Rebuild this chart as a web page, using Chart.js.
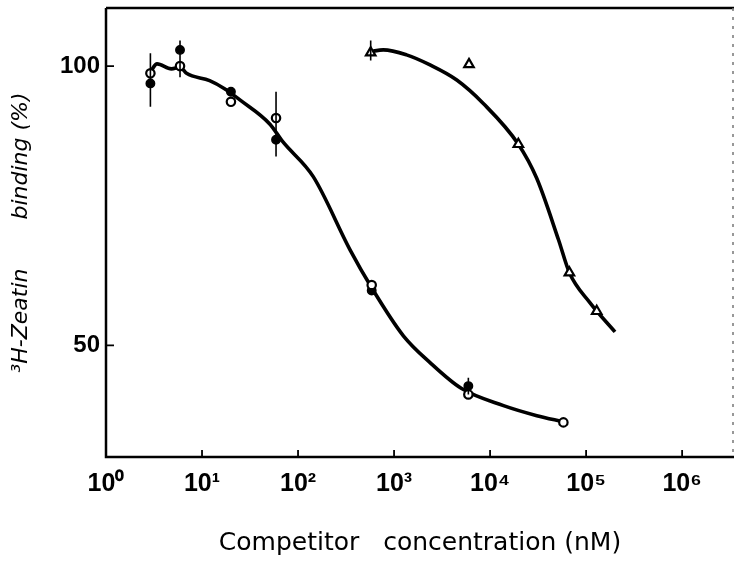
<!DOCTYPE html>
<html><head><meta charset="utf-8">
<script src="https://cdn.jsdelivr.net/npm/chart.js@4/dist/chart.umd.min.js"></script>
<style>html,body{margin:0;padding:0;background:#fff}canvas{display:block}</style>
</head><body>
<canvas id="c" width="735" height="561"></canvas>
<script>
// ---- data ----
const xTickValues = [1, 10, 100, 1000, 10000, 100000, 1000000];
const xTickLabels = ['10⁰', '10¹', '10²', '10³', '10⁴', '10⁵', '10⁶'];
const yTickValues = [50, 100];

const openConc = [2.9, 5.9, 20, 59, 585, 5940, 58000];
const openBinding = [98.7, 100.0, 93.6, 90.7, 60.8, 41.2, 36.2];

const filledConc = [2.9, 5.9, 20, 59, 585, 5940];
const filledBinding = [96.9, 102.9, 95.4, 86.8, 59.8, 42.7];

const triConc = [571, 6030, 19700, 67000, 129000];
const triBinding = [102.4, 100.3, 86.0, 63.0, 56.1];

const fit1Conc = [2.9, 3.4, 4.8, 5.9, 6.9, 12, 17, 25, 51, 69, 144, 348, 585, 1250, 2370, 5000, 13800, 30700, 58000];
const fit1Binding = [99.0, 100.4, 99.5, 99.8, 98.7, 97.4, 96.0, 93.9, 89.6, 86.5, 80.2, 67.1, 60.3, 51.7, 46.9, 42.3, 39.2, 37.4, 36.3];

const fit2Conc = [571, 773, 1350, 2370, 4500, 8500, 19700, 30600, 51600, 67000, 110000, 200000];
const fit2Binding = [102.6, 102.9, 102.0, 100.2, 97.5, 93.3, 86.0, 79.9, 68.9, 63.0, 57.6, 52.4];

const errConc = [2.9, 5.9, 59, 571, 5940];
const errLow = [92.7, 98.0, 83.8, 101.0, 41.2];
const errHigh = [102.3, 104.6, 95.4, 104.6, 44.2];

const xTitle = 'Competitor   concentration (nM)';
const yTitle = '³H-Zeatin       binding (%)';

// ---- helpers ----
const pts = (xs, ys) => xs.map((x, i) => ({x: x, y: ys[i]}));
const FONT = "'Liberation Sans', Arial, sans-serif";
const TFONT = "'DejaVu Sans', sans-serif";

const framePlugin = {
  id: 'frame',
  afterDraw(chart) {
    const {ctx, chartArea: a, scales: {x, y}} = chart;
    ctx.save();
    ctx.strokeStyle = '#000';
    ctx.lineWidth = 2.5;
    ctx.beginPath();
    ctx.moveTo(a.left, a.top); ctx.lineTo(a.right, a.top);
    ctx.moveTo(a.left, a.top); ctx.lineTo(a.left, a.bottom);
    ctx.lineTo(a.right, a.bottom);
    ctx.stroke();
    // dotted right edge
    ctx.strokeStyle = '#777';
    ctx.lineWidth = 1.5;
    ctx.setLineDash([3, 6]);
    ctx.beginPath();
    ctx.moveTo(a.right - 1, a.top); ctx.lineTo(a.right - 1, a.bottom);
    ctx.stroke();
    ctx.setLineDash([]);
    // inward ticks
    ctx.strokeStyle = '#000';
    ctx.lineWidth = 1.8;
    ctx.beginPath();
    x.ticks.forEach(t => {
      const px = x.getPixelForValue(t.value);
      ctx.moveTo(px, a.bottom); ctx.lineTo(px, a.bottom - 7);
    });
    y.ticks.forEach(t => {
      const py = y.getPixelForValue(t.value);
      ctx.moveTo(a.left, py); ctx.lineTo(a.left + 8, py);
    });
    ctx.stroke();
    ctx.restore();
  }
};

const errorPlugin = {
  id: 'errbars',
  afterDatasetsDraw(chart) {
    const {ctx, scales: {x, y}} = chart;
    ctx.save();
    ctx.strokeStyle = '#000';
    ctx.lineWidth = 1.6;
    ctx.beginPath();
    errConc.forEach((c, i) => {
      const px = x.getPixelForValue(c);
      ctx.moveTo(px, y.getPixelForValue(errLow[i]));
      ctx.lineTo(px, y.getPixelForValue(errHigh[i]));
    });
    ctx.stroke();
    ctx.restore();
  }
};

new Chart(document.getElementById('c'), {
  type: 'scatter',
  data: {
    datasets: [
      {data: pts(fit1Conc, fit1Binding), showLine: true, borderColor: '#000', borderWidth: 3.6, pointRadius: 0, cubicInterpolationMode: 'monotone', order: 5},
      {data: pts(fit2Conc, fit2Binding), showLine: true, borderColor: '#000', borderWidth: 3.6, pointRadius: 0, cubicInterpolationMode: 'monotone', order: 5},
      {data: pts(filledConc, filledBinding), pointStyle: 'circle', pointRadius: 4.2, backgroundColor: '#000', borderColor: '#000', borderWidth: 1.5, order: 2},
      {data: pts(openConc, openBinding), pointStyle: 'circle', pointRadius: 4.2, backgroundColor: '#fff', borderColor: '#000', borderWidth: 2.2, order: 1},
      {data: pts(triConc, triBinding), pointStyle: 'triangle', pointRadius: 5.5, backgroundColor: '#fff', borderColor: '#000', borderWidth: 2.2, order: 1}
    ]
  },
  options: {
    responsive: false,
    animation: false,
    devicePixelRatio: 1,
    layout: {autoPadding: false, padding: {left: 5, top: 8, right: 1, bottom: 2}},
    plugins: {legend: {display: false}, tooltip: {enabled: false}},
    scales: {
      x: {
        type: 'logarithmic',
        min: 1,
        max: 3.47e6,
        afterBuildTicks: s => { s.ticks = xTickValues.map(v => ({value: v})); },
        afterFit: s => { s.height = 102; s.paddingLeft = 0; s.paddingRight = 0; },
        border: {display: false},
        grid: {display: false, drawTicks: false},
        ticks: {
          color: '#000',
          padding: 12,
          autoSkip: false,
          maxRotation: 0,
          font: {family: FONT, size: 25, weight: 'bold'},
          callback: (v) => { const i = xTickValues.indexOf(v); return i >= 0 ? xTickLabels[i] : ''; }
        },
        title: {display: true, text: xTitle, color: '#000', font: {family: TFONT, size: 25}, padding: {top: 0, bottom: 1}}
      },
      y: {
        min: 30,
        max: 110.4,
        afterBuildTicks: s => { s.ticks = yTickValues.map(v => ({value: v})); },
        afterFit: s => { s.width = 101; s.paddingTop = 0; s.paddingBottom = 0; },
        border: {display: false},
        grid: {display: false, drawTicks: false},
        ticks: {
          color: '#000',
          padding: 6,
          font: {family: FONT, size: 24, weight: 'bold'},
          callback: v => String(v)
        },
        title: {display: true, text: yTitle, color: '#000', font: {family: TFONT, size: 22, style: 'italic'}, padding: {top: 3, bottom: 0}}
      }
    }
  },
  plugins: [framePlugin, errorPlugin]
});
</script>
</body></html>
